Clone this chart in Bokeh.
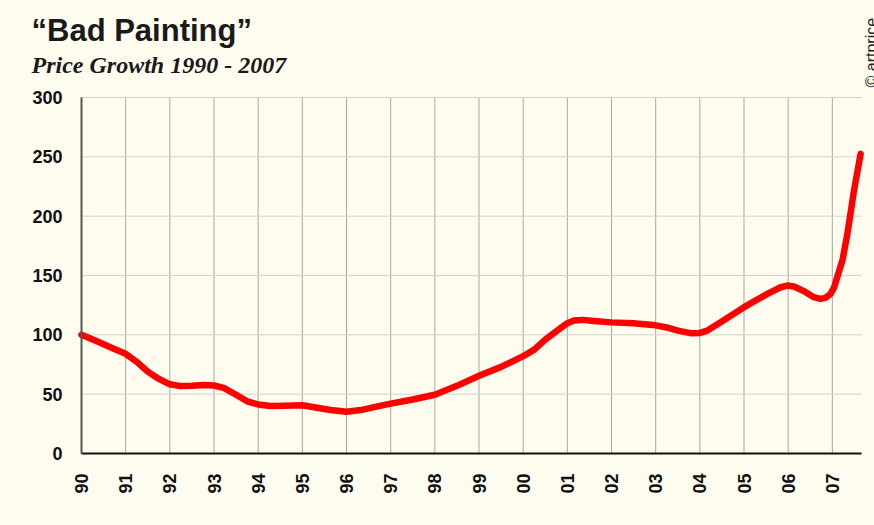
import math
from bokeh.plotting import figure
from bokeh.models import Range1d, FixedTicker
from bokeh.core.properties import value
from bokeh.embed import file_html
from bokeh.resources import INLINE

# Data (year, price index)
years = [1990.0, 1990.35, 1990.73, 1991.0, 1991.26, 1991.5, 1991.71, 1992.0, 1992.24, 1992.5,
         1992.77, 1993.0, 1993.22, 1993.5, 1993.75, 1994.0, 1994.28, 1994.6, 1995.0, 1995.3,
         1995.64, 1996.0, 1996.32, 1996.65, 1997.0, 1997.5, 1998.0, 1998.5, 1999.0, 1999.5,
         2000.0, 2000.25, 2000.5, 2000.77, 2001.0, 2001.15, 2001.35, 2001.6, 2002.0, 2002.5,
         2003.0, 2003.25, 2003.5, 2003.79, 2004.0, 2004.17, 2004.47, 2005.0, 2005.53, 2005.83,
         2005.98, 2006.13, 2006.36, 2006.58, 2006.73, 2006.84, 2006.96, 2007.04, 2007.11, 2007.23,
         2007.34, 2007.49, 2007.64]
values = [100, 94.5, 88.2, 84, 77, 69, 63.8, 58.3, 56.8, 57,
          57.8, 57.3, 55.3, 49.5, 44, 41.3, 40, 40.2, 40.6, 38.8,
          36.7, 35.1, 36.6, 39.3, 42, 45.5, 49.5, 57, 65.5, 73,
          82, 87.5, 96, 103.6, 109.8, 112, 112.6, 111.7, 110.5, 109.7,
          108, 106.2, 103.6, 101.4, 101.6, 103.6, 110.6, 123.3, 134.5, 140.1,
          141.5, 140.7, 136.7, 131.7, 130.3, 131.2, 134.5, 140, 148.5, 163,
          185, 221.6, 252.5]

tick_years = list(range(1990, 2008))
tick_labels = ["90", "91", "92", "93", "94", "95", "96", "97", "98", "99",
               "00", "01", "02", "03", "04", "05", "06", "07"]
y_ticks = [0, 50, 100, 150, 200, 250, 300]
x_start, x_end = 1990, 2007.66   # extent of the plotted axis
y_start, y_end = 0, 300

title_text = "\u201cBad Painting\u201d"
subtitle_text = "Price Growth 1990 - 2007"
credit_text = "\u00a9 artprice"

# ---- layout (pixels) ----
W, H = 874, 525
LEFT, BOTTOM = 81, 72          # axis origin position (from left / from bottom)
PLOT_W, PLOT_H = 780, 356      # axis lengths in px
ppx = PLOT_W / (x_end - x_start)   # px per year
ppy = PLOT_H / (y_end - y_start)   # px per unit
ORIGIN_Y = H - BOTTOM
BG = "#FEFCEF"

def xd(px):   # canvas px from left -> data x
    return x_start + (px - LEFT) / ppx

def yd(py):   # canvas px from top -> data y
    return (ORIGIN_Y - py) / ppy

p = figure(width=W, height=H, output_backend="svg", toolbar_location=None,
           x_range=Range1d(xd(0), xd(W)), y_range=Range1d(yd(H), yd(0)),
           title_location=None,
           min_border_left=0, min_border_right=0, min_border_top=0, min_border_bottom=0)
p.background_fill_color = BG
p.border_fill_color = BG
p.outline_line_color = None
p.xgrid.visible = False
p.ygrid.visible = False

# grid lines limited to the axis extent
p.segment(x0=tick_years, y0=[y_start] * len(tick_years), x1=tick_years, y1=[y_end] * len(tick_years),
          line_color="#a9a9a2", line_width=1)
p.segment(x0=[x_start] * len(y_ticks), y0=y_ticks, x1=[x_end] * len(y_ticks), y1=y_ticks,
          line_color="#d2d2ca", line_width=1)

p.line(years, values, line_color="#FF0000", line_width=6.5, line_join="round", line_cap="round")

# axes drawn at fixed locations inside the full-canvas frame
p.xaxis.fixed_location = y_start
p.yaxis.fixed_location = x_start
p.xaxis.ticker = FixedTicker(ticks=tick_years)
p.xaxis.major_label_overrides = {y: l for y, l in zip(tick_years, tick_labels)}
p.xaxis.major_label_orientation = math.pi / 2
p.xaxis.bounds = (x_start, x_end)
p.yaxis.ticker = FixedTicker(ticks=y_ticks)
p.yaxis.bounds = (y_start, y_end)
for ax in (p.xaxis, p.yaxis):
    ax.major_tick_line_color = None
    ax.minor_tick_line_color = None
    ax.major_label_text_font = "Liberation Sans"
    ax.major_label_text_font_style = "bold"
    ax.major_label_text_color = "#111111"
p.xaxis.major_label_text_font_size = "18px"
p.yaxis.major_label_text_font_size = "18px"
p.xaxis.major_label_standoff = 14
p.yaxis.major_label_standoff = 13
p.xaxis.axis_line_color = "#111111"
p.xaxis.axis_line_width = 2
p.yaxis.axis_line_color = "#555555"
p.yaxis.axis_line_width = 2

# titles and credit as text glyphs (baseline positions compensated for text box offset)
TITLE_PX, SUB_PX, CREDIT_PX = 31, 24, 16
p.text(x=[xd(31)], y=[yd(39 - 0.28 * TITLE_PX)], text=[title_text],
       text_font=value("Liberation Sans"),
       text_font_style="bold", text_font_size=f"{TITLE_PX}px", text_color="#1a1a1a",
       text_baseline="alphabetic", text_align="left")
p.text(x=[xd(31)], y=[yd(71 - 0.28 * SUB_PX)], text=[subtitle_text],
       text_font=value("Liberation Serif"), text_font_style="bold italic",
       text_font_size=f"{SUB_PX}px", text_color="#1a1a1a",
       text_baseline="alphabetic", text_align="left")
p.text(x=[xd(875 - 0.28 * CREDIT_PX)], y=[yd(87)], text=[credit_text],
       text_font=value("Liberation Sans"), text_font_size=f"{CREDIT_PX}px", text_color="#222222",
       angle=math.pi / 2, text_baseline="alphabetic", text_align="left")

open("out.html", "w").write(file_html(p, INLINE))
